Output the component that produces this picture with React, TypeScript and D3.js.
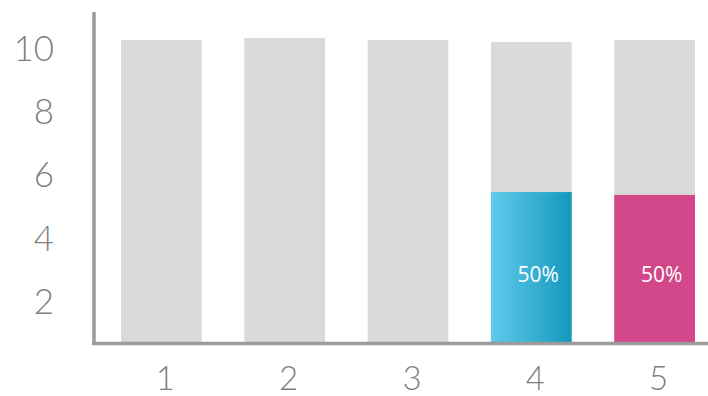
import React from "react";
import * as d3 from "d3";

const categories = ["1", "2", "3", "4", "5"];
const totalValues = [10.21, 10.28, 10.21, 10.15, 10.21];
const partValues: (number | null)[] = [null, null, null, 5.41, 5.32];
const partLabels = ["", "", "", "50%", "50%"];
const yTicks = [2, 4, 6, 8, 10];

const W = 708;
const H = 396;

export default function App() {
  const x = d3
    .scaleBand<string>()
    .domain(categories)
    .range([121, 695])
    .paddingInner(0.345)
    .paddingOuter(0);
  const y = d3.scaleLinear().domain([0, 10]).range([363.3, 46.8]);
  const base = 0.6;
  const bw = x.bandwidth();

  return (
    <svg
      width={W}
      height={H}
      style={{ position: "absolute", left: 0, top: 0, background: "#fff" }}
      fontFamily="Lato, 'Open Sans', sans-serif"
    >
      <defs>
        <linearGradient id="cyanGrad" x1="0" x2="1" y1="0" y2="0">
          <stop offset="0%" stopColor="#5ECBEC" />
          <stop offset="100%" stopColor="#1598BC" />
        </linearGradient>
      </defs>
      {categories.map((c, i) => (
        <rect
          key={"g" + c}
          x={x(c)}
          y={y(totalValues[i])}
          width={bw}
          height={y(base) - y(totalValues[i]) - 2}
          fill="#DADADA"
        />
      ))}
      {categories.map((c, i) =>
        partValues[i] == null ? null : (
          <g key={"p" + c}>
            <rect
              x={x(c)}
              y={y(partValues[i] as number)}
              width={bw}
              height={y(base) - y(partValues[i] as number) - 2}
              fill={i === 3 ? "url(#cyanGrad)" : "#D24789"}
            />
            <text
              x={(x(c) as number) + bw / 2 + 7}
              y={y(2.82)}
              textAnchor="middle"
              dominantBaseline="central"
              fill="#fff"
              fontSize={21}
              fontFamily="'Open Sans', sans-serif"
            >
              {partLabels[i]}
            </text>
          </g>
        )
      )}
      <line x1={94} x2={94} y1={12} y2={345} stroke="#9B9B9B" strokeWidth={3.5} />
      <line x1={92} x2={708} y1={343.5} y2={343.5} stroke="#9B9B9B" strokeWidth={3.5} />
      {yTicks.map((t) => (
        <text
          key={"yt" + t}
          x={54}
          y={y(t)}
          textAnchor="end"
          dominantBaseline="central"
          fill="#7F7F7F"
          fontSize={35}
          fontWeight={300}
        >
          {t}
        </text>
      ))}
      {categories.map((c) => (
        <text
          key={"xt" + c}
          x={(x(c) as number) + bw / 2 + 4}
          y={377}
          textAnchor="middle"
          dominantBaseline="central"
          fill="#7F7F7F"
          fontSize={33}
          fontWeight={300}
        >
          {c}
        </text>
      ))}
    </svg>
  );
}
